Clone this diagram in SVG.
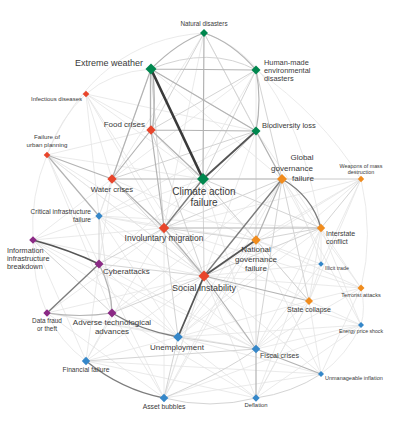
<svg xmlns="http://www.w3.org/2000/svg" width="415" height="433" viewBox="0 0 415 433">
<style>
#edges path{fill:none;stroke-linecap:round}
.f{stroke:#e5e5e5;stroke-width:0.8}
.l{stroke:#d4d4d4;stroke-width:1}
.m{stroke:#b3b3b3;stroke-width:1.2}
.d{stroke:#7d7d7d;stroke-width:1.4}
.k{stroke:#555;stroke-width:1.8}
.x{stroke:#3a3a3a;stroke-width:2.6}
.g{fill:#00874e}.r{fill:#e8452b}.o{fill:#f08c1e}.b{fill:#3587c9}.p{fill:#8b2a85}
text{font-family:"Liberation Sans",Arial,sans-serif;fill:#3a3a3a}
.a{text-anchor:middle}.e{text-anchor:end}
</style>
<rect width="415" height="433" fill="#fff"/>
<g id="edges">
<!-- faint -->
<path class="f" d="M86 94L151 130M86 94L256 131M86 94L112 179M86 94L203 179M86 94L164 228M86 94L204 276M86 94Q110 72 151 69M86 94L99 216"/>
<path class="f" d="M47 155L203 179M47 155L164 228M47 155L99 264M47 155L151 130M47 155L204 276M47 155L112 313"/>
<path class="f" d="M33 240L99 216M33 240L112 179M33 240L164 228M33 240L204 276M33 240L86 361M33 240L178 337M33 240L256 349"/>
<path class="f" d="M99 216L164 228M99 216L204 276M99 216L112 313M99 216L112 179M99 216L178 337M99 216L256 349M99 216L203 179M99 216L256 240M99 216L321 228"/>
<path class="f" d="M47 313L164 228M47 313L204 276M47 313L178 337M47 313L256 349M47 313L164 398"/>
<path class="f" d="M86 361L112 313M86 361L178 337M86 361L204 276M86 361L99 264M86 361L321 374M86 361L256 398M86 361L164 228"/>
<path class="f" d="M164 398L204 276M164 398L112 313M164 398L321 374M164 398L164 228M164 398L99 264M164 398L361 325"/>
<path class="f" d="M256 398L178 337M256 398L204 276M256 398L309 301M256 398L112 313M256 398L361 325M256 398L321 228"/>
<path class="f" d="M321 374L309 301M321 374L204 276M321 374L256 240M321 374L178 337M321 374L361 288"/>
<path class="f" d="M361 325L309 301M361 325L256 349M361 325L204 276M361 325L282 179M361 325L178 337M361 325L321 228"/>
<path class="f" d="M361 288L321 228M361 288L309 301M361 288L282 179M361 288L204 276M361 288L256 240M361 288L164 228M361 288L256 349"/>
<path class="f" d="M361 179L256 240M361 179L309 301M361 179L164 228M361 179L204 276M361 179L203 179M361 179L321 264"/>
<path class="f" d="M321 228L321 264M321 228L309 301M321 228L256 131M321 228L256 349M321 228L178 337"/>
<path class="f" d="M321 264L309 301M321 264Q300 200 282 179M321 264L204 276M321 264L256 240M321 264L256 349"/>
<path class="f" d="M256 240L178 337M256 240L164 398M256 240L112 313M256 240L256 131M309 301L256 349M309 301L178 337M309 301L164 228M309 301L256 398"/>
<path class="f" d="M256 70L164 228M256 70L112 179M256 70L256 240M256 131L204 276M256 131L256 240M256 131L99 216M256 131L151 69"/>
<path class="f" d="M204 33L282 179M204 33L112 179M204 33L164 228M204 33Q290 60 321 228M204 33Q95 40 47 155"/>
<path class="f" d="M99 264L112 179M99 264L178 337M99 264L256 349M112 313L99 216M203 179L309 301M203 179L256 349M203 179L99 264M151 69L99 216M151 69L282 179"/>
<path class="f" d="M164 228L256 349M282 179L178 337M282 179L164 398M282 179L112 313M178 337L361 179M204 276L47 155M151 130L256 240M112 179L256 240M204 276L164 398"/>
<path class="f" d="M86 94Q60 118 47 155M47 155Q30 196 33 240M33 240Q32 280 47 313M47 313Q60 342 86 361M361 325Q366 308 361 288M361 288Q374 235 361 179M361 179Q320 114 256 70M321 374Q347 355 361 325"/>
<!-- light -->
<path class="l" d="M99 216L99 264M256 70L203 179M256 70L282 179M256 131L112 179M256 131L164 228M151 69L164 228M151 69Q210 45 256 70M204 33L256 131M204 33L151 130M256 70L151 130M33 240L112 313"/>
<path class="l" d="M151 130L204 276M164 228L99 264M164 228L178 337M164 228L282 179M204 276L112 313M204 276L99 264M204 276L203 179M204 276L112 179"/>
<path class="l" d="M321 228L256 240M321 228L204 276M361 179L321 228M361 179L282 179M321 228L203 179M256 240L164 228M256 240L203 179M256 240L309 301M256 240L256 349"/>
<path class="l" d="M309 301L282 179M178 337L256 349M282 179L256 349M86 361L256 349M164 398L178 337M164 398Q225 372 256 349M256 398Q292 393 321 374M164 398Q210 410 256 398"/>
<!-- medium -->
<path class="m" d="M47 155L112 179M47 155L99 216M47 313Q80 318 112 313M99 264Q112 290 112 313M151 130L164 228M151 130L112 179M151 130L203 179M151 69L112 179M151 69L256 131M151 69L256 70M151 130L256 131"/>
<path class="m" d="M164 228L204 276M164 228L112 179M164 228L321 228M203 179L282 179M203 179L112 179M204 33L203 179M204 33Q178 42 151 69M204 33Q232 42 256 70M256 70Q262 100 256 131M256 131L282 179"/>
<path class="m" d="M256 240L282 179M204 276L309 301M204 276L256 349M256 349L256 398M256 349L321 374"/>
<path class="m" d="M150.5 69L150.5 130M152.5 69Q156 100 152.5 130" style="stroke-width:1.3"/>
<!-- dark -->
<path class="d" d="M203 179L164 228M204 276L282 179M282 179Q312 196 321 228M86 361Q122 390 164 398M112 313Q140 330 178 337M99 264L47 313"/>
<path class="k" d="M33 240Q70 250 99 264M204 276L256 240M204 276L178 337M203 179L256 131"/>
<path class="x" d="M151 69L203 179"/>
</g>
<g id="n1"><path class="g" d="M204 29L208 33L204 37L200 33Z"/><text class="a" x="204" y="26" font-size="6.3">Natural disasters</text></g>
<g id="n2"><path class="g" d="M151 63.5L156.5 69L151 74.5L145.5 69Z"/><text class="e" x="143" y="66" font-size="9">Extreme weather</text></g>
<g id="n3"><path class="g" d="M256 65.5L260.5 70L256 74.5L251.5 70Z"/><text x="264" y="64.5" font-size="7.4">Human-made<tspan x="264" dy="8">environmental</tspan><tspan x="264" dy="8">disasters</tspan></text></g>
<g id="n4"><path class="r" d="M86 90.7L89.3 94L86 97.3L82.7 94Z"/><text class="e" x="82" y="101" font-size="6">Infectious diseases</text></g>
<g id="n5"><path class="r" d="M151 125.3L155.7 130L151 134.7L146.3 130Z"/><text class="e" x="145" y="127" font-size="8">Food crises</text></g>
<g id="n6"><path class="g" d="M256 126.5L260.5 131L256 135.5L251.5 131Z"/><text x="262" y="128" font-size="7.5">Biodiversity loss</text></g>
<g id="n7"><path class="r" d="M47 151.7L50.3 155L47 158.3L43.7 155Z"/><text class="a" x="47" y="139" font-size="6.2">Failure of<tspan x="47" dy="8">urban planning</tspan></text></g>
<g id="n8"><path class="r" d="M112 174.3L116.7 179L112 183.7L107.3 179Z"/><text class="a" x="112" y="192" font-size="7.7">Water crises</text></g>
<g id="n9"><path class="g" d="M203 173L209 179L203 185L197 179Z"/><text class="a" x="204" y="195" font-size="10">Climate action<tspan x="204" dy="10.5">failure</tspan></text></g>
<g id="n10"><path class="o" d="M282 174L287 179L282 184L277 179Z"/><text class="a" font-size="8"><tspan x="302" y="160">Global</tspan><tspan x="292" y="171">governance</tspan><tspan x="303" y="181">failure</tspan></text></g>
<g id="n11"><path class="o" d="M361 175.8L364.2 179L361 182.2L357.8 179Z"/><text class="a" x="361" y="168" font-size="5.4">Weapons of mass<tspan x="361" dy="6.2">destruction</tspan></text></g>
<g id="n12"><path class="b" d="M99 212.3L102.7 216L99 219.7L95.3 216Z"/><text class="e" x="91" y="213.5" font-size="6.6">Critical infrastructure<tspan x="91" dy="8">failure</tspan></text></g>
<g id="n13"><path class="r" d="M164 222.8L169.2 228L164 233.2L158.8 228Z"/><text class="a" x="164" y="241" font-size="8.5">Involuntary migration</text></g>
<g id="n14"><path class="o" d="M321 223.8L325.2 228L321 232.2L316.8 228Z"/><text x="326" y="235.5" font-size="7">Interstate<tspan x="326" dy="8">conflict</tspan></text></g>
<g id="n15"><path class="p" d="M33 236.2L36.8 240L33 243.8L29.2 240Z"/><text x="7" y="252.5" font-size="7.3">Information<tspan x="7" dy="8">infrastructure</tspan><tspan x="7" dy="8">breakdown</tspan></text></g>
<g id="n16"><path class="o" d="M256 235.3L260.7 240L256 244.7L251.3 240Z"/><text class="a" x="256" y="252" font-size="8">National<tspan x="256" dy="9.5">governance</tspan><tspan x="256" dy="9.5">failure</tspan></text></g>
<g id="n17"><path class="p" d="M99 259.5L103.5 264L99 268.5L94.5 264Z"/><text x="103" y="274" font-size="8">Cyberattacks</text></g>
<g id="n18"><path class="b" d="M321 261.2L323.8 264L321 266.8L318.2 264Z"/><text x="325" y="270" font-size="5.3">Illicit trade</text></g>
<g id="n19"><path class="r" d="M204 270.5L209.5 276L204 281.5L198.5 276Z"/><text class="a" x="204" y="291" font-size="9">Social instability</text></g>
<g id="n20"><path class="o" d="M361 284.5L364.5 288L361 291.5L357.5 288Z"/><text class="a" x="361" y="297" font-size="5.6">Terrorist attacks</text></g>
<g id="n21"><path class="o" d="M309 297L313 301L309 305L305 301Z"/><text class="a" x="309" y="311.5" font-size="7">State collapse</text></g>
<g id="n22"><path class="p" d="M47 309.3L50.7 313L47 316.7L43.3 313Z"/><text class="a" x="47" y="323" font-size="6.4">Data fraud<tspan x="47" dy="7.5">or theft</tspan></text></g>
<g id="n23"><path class="p" d="M112 308.5L116.5 313L112 317.5L107.5 313Z"/><text class="a" x="112" y="325" font-size="8">Adverse technological<tspan x="112" dy="8.8">advances</tspan></text></g>
<g id="n24"><path class="b" d="M361 322L364 325L361 328L358 325Z"/><text class="a" x="361" y="333" font-size="5.2">Energy price shock</text></g>
<g id="n25"><path class="b" d="M178 332.2L182.8 337L178 341.8L173.2 337Z"/><text class="a" x="177" y="350" font-size="8">Unemployment</text></g>
<g id="n26"><path class="b" d="M256 344.7L260.3 349L256 353.3L251.7 349Z"/><text x="260" y="357.5" font-size="7.1">Fiscal crises</text></g>
<g id="n27"><path class="b" d="M86 356.8L90.2 361L86 365.2L81.8 361Z"/><text class="a" x="86" y="371.5" font-size="6.7">Financial failure</text></g>
<g id="n28"><path class="b" d="M321 371L324 374L321 377L318 374Z"/><text x="325" y="380" font-size="5.5">Unmanageable inflation</text></g>
<g id="n29"><path class="b" d="M256 394.3L259.7 398L256 401.7L252.3 398Z"/><text class="a" x="256" y="407" font-size="5.9">Deflation</text></g>
<g id="n30"><path class="b" d="M164 393.7L168.3 398L164 402.3L159.7 398Z"/><text class="a" x="164" y="408.5" font-size="6.8">Asset bubbles</text></g>
</svg>
